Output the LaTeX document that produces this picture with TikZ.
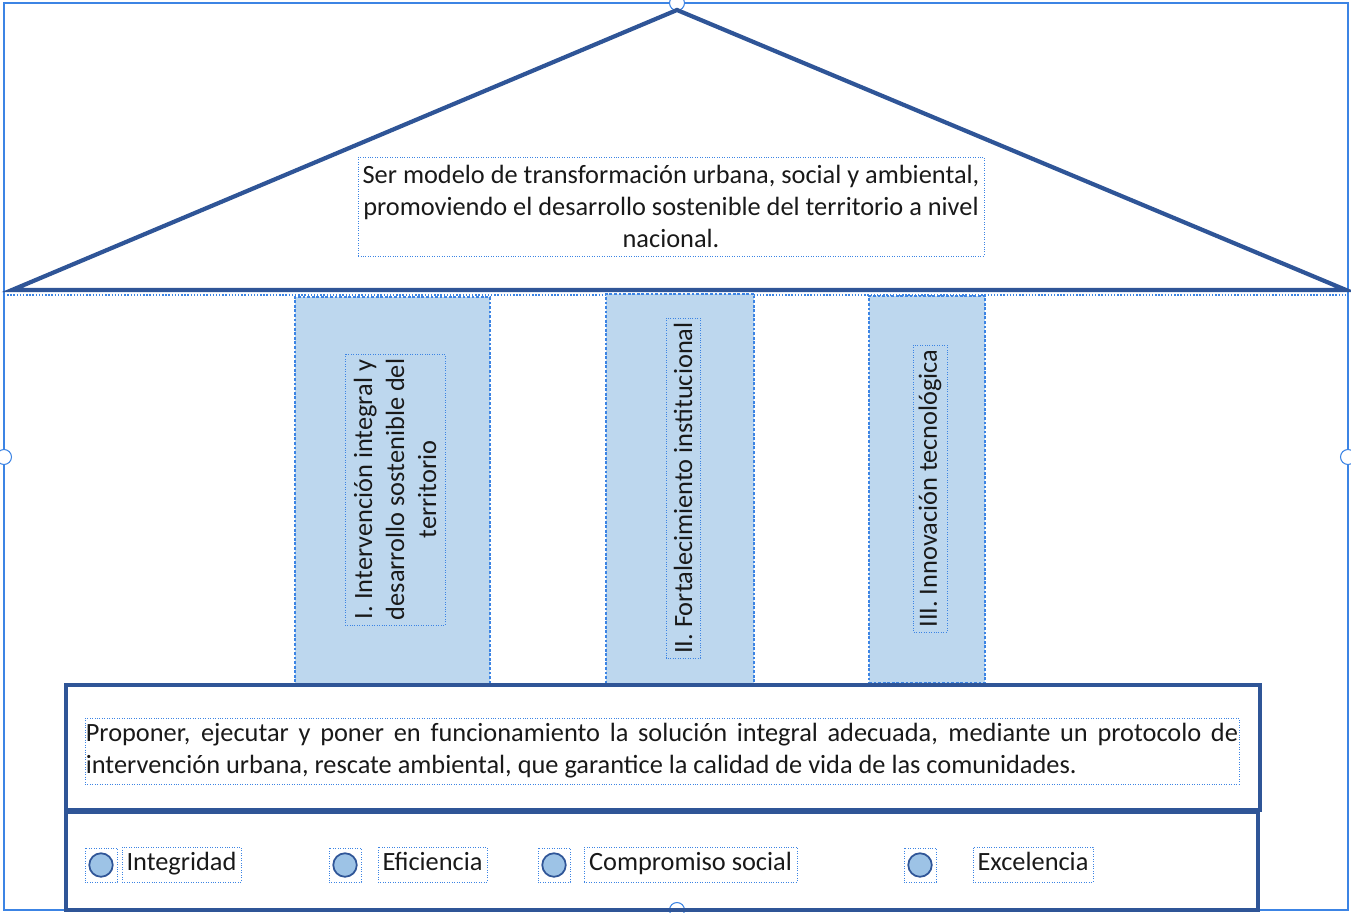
\documentclass[tikz,border=0pt]{standalone}
\usepackage{fontspec}
\setmainfont{Carlito}
\usepackage{tikz}
\usetikzlibrary{positioning}

\definecolor{roofblue}{RGB}{47,85,151}
\definecolor{selblue}{RGB}{60,132,228}
\definecolor{pillarfill}{RGB}{189,215,238}
\definecolor{dotfill}{RGB}{157,195,230}
\definecolor{inkgray}{RGB}{25,25,25}
\hyphenpenalty=10000
\exhyphenpenalty=10000

\begin{document}
\begin{tikzpicture}[x=0.02cm,y=-0.02cm,
    font=\fontsize{15}{18.2}\selectfont, text=inkgray,
    roof/.style={draw=roofblue,line width=2.4pt},
    txtbox/.style={draw=selblue,densely dotted,inner sep=0.5pt},
    pillar/.style={draw=selblue,densely dotted,line width=1.6pt,fill=pillarfill},
    base/.style={draw=roofblue,line width=2.2pt},
    bullet/.style={circle,draw=roofblue,line width=1pt,fill=dotfill,minimum size=0.47cm,inner sep=0pt},
    markbox/.style={draw=selblue,densely dotted,minimum width=0.64cm,minimum height=0.68cm,inner sep=0pt},
    valbox/.style={txtbox,minimum height=0.7cm,text height=2.1ex,text depth=0.6ex},
    handle/.style={circle,draw=selblue,fill=white,line width=0.6pt,minimum size=0.3cm,inner sep=0pt}]
  \useasboundingbox (0,0) rectangle (1351,912);

  % selection frame
  \draw[selblue,line width=0.6pt] (4,3) rectangle (1348,910);
  \node[handle] (hTop)   at (677,3)    {};
  \node[handle] (hLeft)  at (4,457)    {};
  \node[handle] (hRight) at (1348,457) {};
  \node[handle] (hBot)   at (677,910)  {};

  % roof
  \coordinate (apex)  at (677,10);
  \coordinate (eaveL) at (12,290);
  \coordinate (eaveR) at (1346,290);
  \draw[roof] (eaveL) -- (apex) -- (eaveR) -- cycle;
  \draw[selblue,densely dotted,line width=0.8pt] (4,295) -- (1348,295);
  \node[txtbox,minimum width=12.52cm,minimum height=1.98cm,align=center] (vision) at (671,206.5)
    {Ser modelo de transformación urbana, social y ambiental,\\ promoviendo el desarrollo sostenible del territorio a nivel\\ nacional.};

  % pillars
  \node[pillar,minimum width=3.9cm,minimum height=7.76cm]  (col1) at (392.5,491) {};
  \node[pillar,minimum width=2.96cm,minimum height=7.82cm] (col2) at (680,489.5) {};
  \node[pillar,minimum width=2.32cm,minimum height=7.74cm] (col3) at (927,489.5) {};
  \node[txtbox,rotate=90,minimum width=5.42cm,minimum height=2cm,align=center] (axis1) at (395,489.5)
    {I. Intervención integral y\\ desarrollo sostenible del\\ territorio};
  \node[txtbox,rotate=90,minimum width=6.8cm,minimum height=0.68cm,align=center] (axis2) at (683,488)
    {II. Fortalecimiento institucional};
  \node[txtbox,rotate=90,minimum width=5.74cm,minimum height=0.68cm,align=center] (axis3) at (930,488.5)
    {III. Innovación tecnológica};

  % mission and values
  \node[base,minimum width=23.88cm,minimum height=2.5cm] (missionbox) at (663,747.5) {};
  \node[txtbox,text width=23.05cm,minimum height=1.32cm,align=justify] (mission) at (662,751)
    {Proponer, ejecutar y poner en funcionamiento la solución integral adecuada, mediante un protocolo de intervención urbana, rescate ambiental, que garantice la calidad de vida de las comunidades.};
  \node[base,minimum width=23.84cm,minimum height=1.96cm] (valuesbox) at (662,861) {};

  \node[markbox] (m1) at (101,865) {};
  \node[markbox] (m2) at (345,865) {};
  \node[markbox] (m3) at (554,865) {};
  \node[markbox] (m4) at (920,865) {};
  \node[bullet] (d1) at (m1) {};
  \node[bullet] (d2) at (m2) {};
  \node[bullet] (d3) at (m3) {};
  \node[bullet] (d4) at (m4) {};
  \node[valbox,minimum width=2.38cm] (v1) at (181.5,864.5) {Integridad};
  \node[valbox,minimum width=2.18cm] (v2) at (432.5,864.5) {Eficiencia};
  \node[valbox,minimum width=4.26cm] (v3) at (690.5,864.5) {Compromiso social};
  \node[valbox,minimum width=2.4cm]  (v4) at (1033,864.5)  {Excelencia};
\end{tikzpicture}
\end{document}
